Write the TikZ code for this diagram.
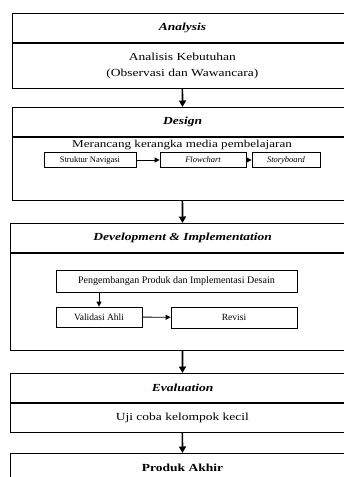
\documentclass[tikz,border=0pt]{standalone}
\usepackage{fontspec}
\setmainfont{Liberation Serif}[FakeStretch=1.25]
\newfontfamily\boxfont{Liberation Serif}
\usetikzlibrary{positioning,arrows.meta}

\begin{document}
\begin{tikzpicture}[x=1pt,y=-1pt,
    head/.style={draw,line width=1.1pt,minimum height=29pt,inner sep=0pt,anchor=north west,
      font=\fontsize{10.8}{13}\selectfont\bfseries\itshape},
    body/.style={draw,line width=0.7pt,inner sep=0pt,anchor=north west,align=center,
      font=\fontsize{10.8}{16}\selectfont},
    small/.style={draw,line width=0.8pt,inner sep=0pt,font=\boxfont\fontsize{9.5}{11}\selectfont},
    flow/.style={-{Triangle[length=6.5pt,width=7pt]},line width=1.6pt},
    link/.style={-{Triangle[length=5pt,width=5pt]},line width=0.9pt}]
  \useasboundingbox (0,0) rectangle (344,477);
  \clip (0,0) rectangle (344,477);
  % Analysis
  \node[head,minimum width=340pt] (anaHead) at (12,13) {Analysis};
  \node[body,minimum width=340pt,minimum height=45pt] (anaBody) at (anaHead.south west)
    {Analisis Kebutuhan\\(Observasi dan Wawancara)};
  % Design
  \node[head,minimum width=340pt] (desHead) at (12,107) {Design};
  \node[body,minimum width=340pt,minimum height=63pt] (desBody) at (desHead.south west) {};
  \node[font=\fontsize{10.5}{13}\selectfont,inner sep=0pt,anchor=base] (desText) at (182,147.5) {Merancang kerangka media pembelajaran};
  \node[small,minimum width=92pt,minimum height=15pt,font=\boxfont\fontsize{8.5}{10}\selectfont] (navi) at (90,160) {Struktur Navigasi};
  \node[small,minimum width=86pt,minimum height=15pt,font=\boxfont\fontsize{8.5}{10}\selectfont\itshape] (flowc) at (203,160) {Flowchart};
  \node[small,minimum width=68pt,minimum height=15pt,font=\boxfont\fontsize{8.5}{10}\selectfont\itshape] (story) at (286,160) {Storyboard};
  \draw[link] (navi) -- (flowc);
  \draw[link] (flowc) -- (story);
  % Development & Implementation
  \node[head,minimum width=344pt] (devHead) at (10,223) {Development \& Implementation};
  \node[body,minimum width=344pt,minimum height=97pt] (devBody) at (devHead.south west) {};
  \node[small,minimum width=241pt,minimum height=22pt,font=\boxfont\fontsize{10}{12}\selectfont] (produk) at (176.5,281) {Pengembangan Produk dan Implementasi Desain};
  \node[small,minimum width=86pt,minimum height=20pt] (valid) at (99,317) {Validasi Ahli};
  \node[small,minimum width=126pt,minimum height=21pt] (revisi) at (234,317.5) {Revisi};
  \draw[link] (valid.north |- produk.south) -- (valid.north);
  \draw[link] (valid) -- (revisi);
  % Evaluation
  \node[head,minimum width=344pt] (evaHead) at (10,373) {Evaluation};
  \node[body,minimum width=344pt,minimum height=29pt] (evaBody) at (evaHead.south west) {Uji coba kelompok kecil};
  % Produk Akhir
  \node[head,minimum width=344pt,font=\fontsize{10.8}{13}\selectfont\bfseries] (akhir) at (10,453) {Produk Akhir};
  % main flow
  \draw[flow] (anaBody) -- (desHead);
  \draw[flow] (desBody) -- (devHead);
  \draw[flow] (devBody) -- (evaHead);
  \draw[flow] (evaBody) -- (akhir);
\end{tikzpicture}
\end{document}
